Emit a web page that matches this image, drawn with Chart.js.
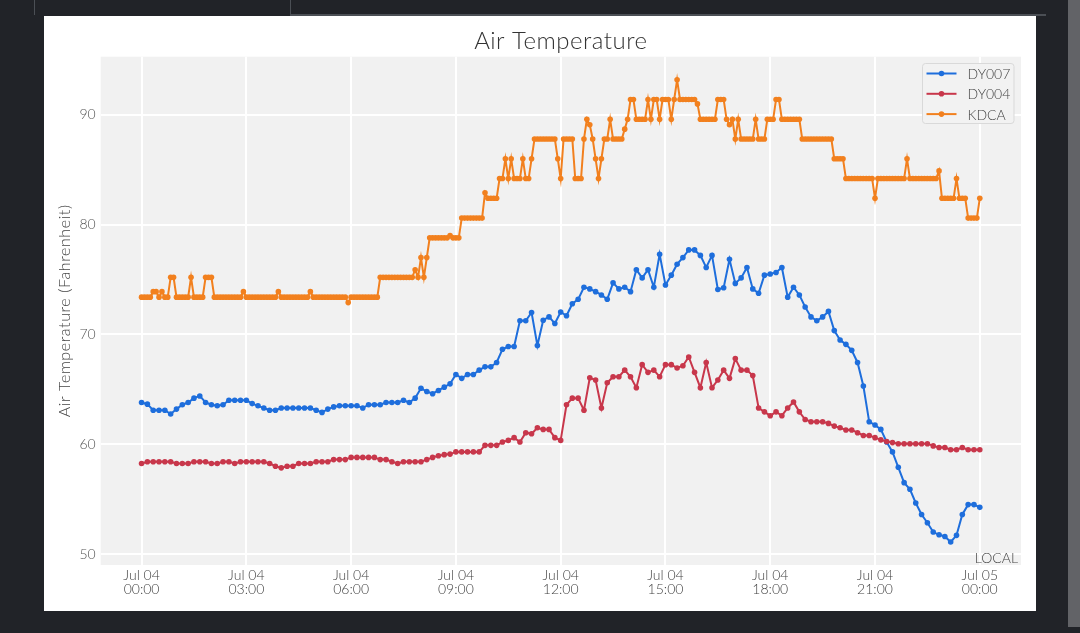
<!DOCTYPE html>
<html lang="en">
<head>
  <meta charset="UTF-8" />
  <title>Air Temperature</title>
  <style>
    html, body { margin: 0; padding: 0; width: 1080px; height: 633px; background: #212328; overflow: hidden; }
    .edge-a { position: absolute; left: 34px; top: 0; width: 1px; height: 15px; background: #4b4f55; }
    .edge-b { position: absolute; left: 290px; top: 0; width: 1px; height: 15px; background: #4b4f55; }
    .edge-c { position: absolute; left: 290px; top: 14px; width: 756px; height: 2px; background: #4b4f55; }
    .side { position: absolute; left: 1068px; top: 0; width: 12px; height: 627px; background: #626367; }
    #card { position: absolute; left: 44px; top: 16px; width: 992px; height: 595px; background: #fff; }
  </style>
</head>
<body>
  <div class="edge-a"></div>
  <div class="edge-b"></div>
  <div class="edge-c"></div>
  <div class="side"></div>
  <div id="card"><canvas id="tempChart"></canvas></div>

  <script src="https://cdn.jsdelivr.net/npm/chart.js"></script>
  <script>
    // station names and colours
    const seriesNames = ["DY007", "DY004", "KDCA"];
    const seriesColors = ["#1e6edc", "#c8374b", "#f2801e"];

    // DY007 / DY004: one reading every 10 minutes, Jul 04 00:00 -> Jul 05 00:00
    const dy007 = [
      63.8, 63.65, 63.1, 63.1, 63.1, 62.75, 63.2, 63.6, 63.8, 64.2, 64.4, 63.8,
      63.6, 63.5, 63.6, 64.0, 64.0, 64.0, 64.0, 63.7, 63.5, 63.3, 63.1, 63.1,
      63.3, 63.3, 63.3, 63.3, 63.3, 63.3, 63.1, 62.9, 63.2, 63.4, 63.5, 63.5,
      63.5, 63.5, 63.3, 63.6, 63.6, 63.6, 63.8, 63.8, 63.8, 64.0, 63.8, 64.2,
      65.1, 64.8, 64.6, 64.9, 65.2, 65.5, 66.35, 66.0, 66.35, 66.35, 66.75, 67.05,
      67.05, 67.45, 68.65, 68.9, 68.9, 71.25, 71.25, 72.0, 69.0, 71.3, 71.6, 71.0,
      72.05, 71.7, 72.8, 73.2, 74.3, 74.15, 73.9, 73.6, 73.2, 74.7, 74.15, 74.3,
      73.9, 75.9, 75.15, 75.9, 74.3, 77.3, 74.5, 75.4, 76.4, 77.0, 77.7, 77.7,
      77.2, 76.1, 77.2, 74.1, 74.25, 76.85, 74.65, 75.15, 76.1, 74.15, 73.75, 75.4,
      75.5, 75.65, 76.1, 73.4, 74.3, 73.6, 72.5, 71.6, 71.25, 71.6, 72.1, 70.35,
      69.5, 69.1, 68.55, 67.45, 65.3, 62.05, 61.75, 61.35, 60.2, 59.3, 57.9, 56.5,
      55.9, 54.65, 53.6, 52.85, 52.0, 51.75, 51.6, 51.1, 51.7, 53.6, 54.5, 54.5,
      54.25
    ];
    const dy004 = [
      58.25, 58.4, 58.4, 58.4, 58.4, 58.4, 58.25, 58.25, 58.25, 58.4, 58.4, 58.4,
      58.25, 58.25, 58.4, 58.4, 58.25, 58.4, 58.4, 58.4, 58.4, 58.4, 58.25, 58.0,
      57.85, 58.0, 58.0, 58.25, 58.25, 58.25, 58.4, 58.4, 58.4, 58.6, 58.6, 58.6,
      58.8, 58.8, 58.8, 58.8, 58.8, 58.6, 58.6, 58.4, 58.25, 58.4, 58.4, 58.4,
      58.4, 58.6, 58.8, 58.95, 59.05, 59.1, 59.3, 59.3, 59.3, 59.3, 59.3, 59.9,
      59.9, 59.9, 60.2, 60.35, 60.6, 60.2, 61.05, 60.95, 61.5, 61.35, 61.35, 60.6,
      60.35, 63.6, 64.2, 64.2, 63.1, 66.05, 65.85, 63.3, 65.6, 66.15, 66.15, 66.75,
      66.15, 65.15, 67.25, 66.55, 66.75, 66.15, 67.25, 67.25, 66.95, 67.15, 67.95, 66.55,
      65.15, 67.45, 65.15, 65.85, 66.75, 66.0, 67.8, 66.75, 66.75, 66.25, 63.3, 62.95,
      62.6, 62.95, 62.6, 63.3, 63.85, 62.95, 62.25, 62.05, 62.05, 62.05, 61.9, 61.65,
      61.5, 61.3, 61.3, 61.05, 60.8, 60.8, 60.6, 60.4, 60.25, 60.15, 60.05, 60.05,
      60.05, 60.05, 60.05, 60.05, 59.85, 59.7, 59.7, 59.5, 59.5, 59.7, 59.5, 59.5,
      59.5
    ];
    // KDCA: one reading every 5 minutes (one row per hour)
    const kdca = [
      73.4, 73.4, 73.4, 73.4, 73.9, 73.9, 73.4, 73.9, 73.4, 73.4, 75.2, 75.2,
      73.4, 73.4, 73.4, 73.4, 73.4, 75.2, 73.4, 73.4, 73.4, 73.4, 75.2, 75.2,
      75.2, 73.4, 73.4, 73.4, 73.4, 73.4, 73.4, 73.4, 73.4, 73.4, 73.4, 73.9,
      73.4, 73.4, 73.4, 73.4, 73.4, 73.4, 73.4, 73.4, 73.4, 73.4, 73.4, 73.9,
      73.4, 73.4, 73.4, 73.4, 73.4, 73.4, 73.4, 73.4, 73.4, 73.4, 73.9, 73.4,
      73.4, 73.4, 73.4, 73.4, 73.4, 73.4, 73.4, 73.4, 73.4, 73.4, 73.4, 72.9,
      73.4, 73.4, 73.4, 73.4, 73.4, 73.4, 73.4, 73.4, 73.4, 73.4, 75.2, 75.2,
      75.2, 75.2, 75.2, 75.2, 75.2, 75.2, 75.2, 75.2, 75.2, 75.2, 75.9, 75.2,
      77.0, 75.2, 77.0, 78.8, 78.8, 78.8, 78.8, 78.8, 78.8, 78.8, 79.0, 78.8,
      78.8, 78.8, 80.6, 80.6, 80.6, 80.6, 80.6, 80.6, 80.6, 80.6, 82.9, 82.4,
      82.4, 82.4, 82.4, 84.2, 84.2, 86.0, 84.2, 86.0, 84.2, 84.2, 84.2, 86.0,
      84.2, 84.2, 86.0, 87.8, 87.8, 87.8, 87.8, 87.8, 87.8, 87.8, 87.8, 86.0,
      84.2, 87.8, 87.8, 87.8, 87.8, 84.2, 84.2, 84.2, 87.8, 89.6, 89.1, 87.8,
      86.0, 84.2, 86.0, 87.8, 87.8, 89.6, 87.8, 87.8, 87.8, 87.8, 88.7, 89.6,
      91.4, 91.4, 89.6, 89.6, 89.6, 89.6, 91.4, 89.6, 91.4, 91.4, 89.6, 91.4,
      91.4, 91.4, 89.6, 91.4, 93.2, 91.4, 91.4, 91.4, 91.4, 91.4, 91.4, 91.0,
      89.6, 89.6, 89.6, 89.6, 89.6, 89.6, 91.4, 91.4, 91.4, 89.6, 89.1, 89.6,
      87.8, 89.6, 87.8, 87.8, 87.8, 87.8, 87.8, 89.6, 87.8, 87.8, 87.8, 89.6,
      89.6, 89.6, 91.4, 91.4, 89.6, 89.6, 89.6, 89.6, 89.6, 89.6, 89.6, 87.8,
      87.8, 87.8, 87.8, 87.8, 87.8, 87.8, 87.8, 87.8, 87.8, 87.8, 86.0, 86.0,
      86.0, 86.0, 84.2, 84.2, 84.2, 84.2, 84.2, 84.2, 84.2, 84.2, 84.2, 84.2,
      82.4, 84.2, 84.2, 84.2, 84.2, 84.2, 84.2, 84.2, 84.2, 84.2, 84.2, 86.0,
      84.2, 84.2, 84.2, 84.2, 84.2, 84.2, 84.2, 84.2, 84.2, 84.2, 84.9, 82.4,
      82.4, 82.4, 82.4, 82.4, 84.2, 82.4, 82.4, 82.4, 80.6, 80.6, 80.6, 80.6,
      82.4
    ];

    // axis ticks (x in hours since Jul 04 00:00)
    const xTickHours = [0, 3, 6, 9, 12, 15, 18, 21, 24];
    const xTickLabels = [
      ["Jul 04", "00:00"], ["Jul 04", "03:00"], ["Jul 04", "06:00"],
      ["Jul 04", "09:00"], ["Jul 04", "12:00"], ["Jul 04", "15:00"],
      ["Jul 04", "18:00"], ["Jul 04", "21:00"], ["Jul 05", "00:00"]
    ];
    const yTicks = [50, 60, 70, 80, 90];

    const FONT = "Lato, 'Open Sans', sans-serif";

    function toPoints(values, stepMinutes) {
      return values.map((v, i) => ({ x: i * stepMinutes / 60, y: v }));
    }

    // grey plot background
    const plotBg = {
      id: "plotBg",
      beforeDraw(chart) {
        const { ctx, chartArea: a } = chart;
        ctx.save();
        ctx.fillStyle = "#f1f1f1";
        ctx.fillRect(a.left, a.top, a.right - a.left, a.bottom - a.top);
        ctx.restore();
      }
    };

    // title, y title, legend box and the LOCAL label
    const decorations = {
      id: "decorations",
      afterDraw(chart) {
        const { ctx, chartArea: a } = chart;
        ctx.save();

        ctx.fillStyle = "#333";
        ctx.font = "300 24px " + FONT;
        ctx.letterSpacing = "0.5px";
        ctx.textAlign = "center";
        ctx.textBaseline = "alphabetic";
        ctx.fillText("Air Temperature", (a.left + a.right) / 2, 33);

        // y axis title
        ctx.save();
        ctx.translate(21, (a.top + a.bottom) / 2);
        ctx.rotate(-Math.PI / 2);
        ctx.fillStyle = "#444";
        ctx.font = "300 16px " + FONT;
        ctx.letterSpacing = "0.6px";
        ctx.textBaseline = "middle";
        ctx.fillText("Air Temperature (Fahrenheit)", 0, 0);
        ctx.restore();

        ctx.letterSpacing = "0px";
        ctx.fillStyle = "#444";
        ctx.font = "300 14px " + FONT;
        ctx.textAlign = "right";
        ctx.fillText("LOCAL", a.right - 3, a.bottom - 2);

        // legend
        const lx = 878.5, ly = 47.5, lw = 91.5, lh = 60;
        ctx.beginPath();
        ctx.roundRect(lx, ly, lw, lh, 3);
        ctx.fillStyle = "#f2f2f2";
        ctx.fill();
        ctx.strokeStyle = "#d9d9d9";
        ctx.lineWidth = 1;
        ctx.stroke();
        ctx.textAlign = "left";
        ctx.textBaseline = "middle";
        seriesNames.forEach((name, i) => {
          const y = ly + 10 + i * 20.3;
          ctx.strokeStyle = seriesColors[i];
          ctx.lineWidth = 2;
          ctx.beginPath();
          ctx.moveTo(lx + 4, y);
          ctx.lineTo(lx + 34, y);
          ctx.stroke();
          ctx.fillStyle = seriesColors[i];
          ctx.beginPath();
          ctx.arc(lx + 19, y, 2.8, 0, Math.PI * 2);
          ctx.fill();
          ctx.fillStyle = "#444";
          ctx.fillText(name, lx + 45, y + 1);
        });
        ctx.restore();
      }
    };

    const series = [dy007, dy004, kdca];
    const steps = [10, 10, 5];

    const ctx = document.getElementById("tempChart").getContext("2d");
    new Chart(ctx, {
      type: "line",
      data: {
        datasets: series.map((vals, i) => ({
          label: seriesNames[i],
          data: toPoints(vals, steps[i]),
          borderColor: seriesColors[i],
          backgroundColor: seriesColors[i],
          borderWidth: 2,
          pointRadius: 2.8,
          pointBorderWidth: 0,
          pointHoverRadius: 2.8,
          tension: 0,
          fill: false,
          order: 3 - i
        }))
      },
      options: {
        responsive: true,
        maintainAspectRatio: false,
        animation: false,
        events: [],
        layout: { padding: { top: 40.7, right: 15, left: 0, bottom: 0 } },
        plugins: {
          legend: { display: false },
          title: { display: false },
          tooltip: { enabled: false }
        },
        scales: {
          x: {
            type: "linear",
            min: -1.17,
            max: 25.18,
            afterBuildTicks: s => { s.ticks = xTickHours.map(v => ({ value: v })); },
            afterFit: s => { s.height = 46; },
            border: { display: false },
            grid: { color: "#ffffff", lineWidth: 2, drawTicks: false },
            ticks: {
              autoSkip: false,
              maxRotation: 0,
              padding: 4,
              color: "#444",
              font: { family: FONT, size: 14, weight: 300, lineHeight: 0.98 },
              callback: (v, i) => xTickLabels[i]
            }
          },
          y: {
            min: 49.0,
            max: 95.3,
            afterBuildTicks: s => { s.ticks = yTicks.map(v => ({ value: v })); },
            afterFit: s => { s.width = 56.7; },
            border: { display: false },
            grid: { color: "#ffffff", lineWidth: 2, drawTicks: false },
            ticks: {
              padding: 5,
              color: "#555",
              font: { family: FONT, size: 14, weight: 300 }
            }
          }
        }
      },
      plugins: [plotBg, decorations]
    });
  </script>
</body>
</html>
